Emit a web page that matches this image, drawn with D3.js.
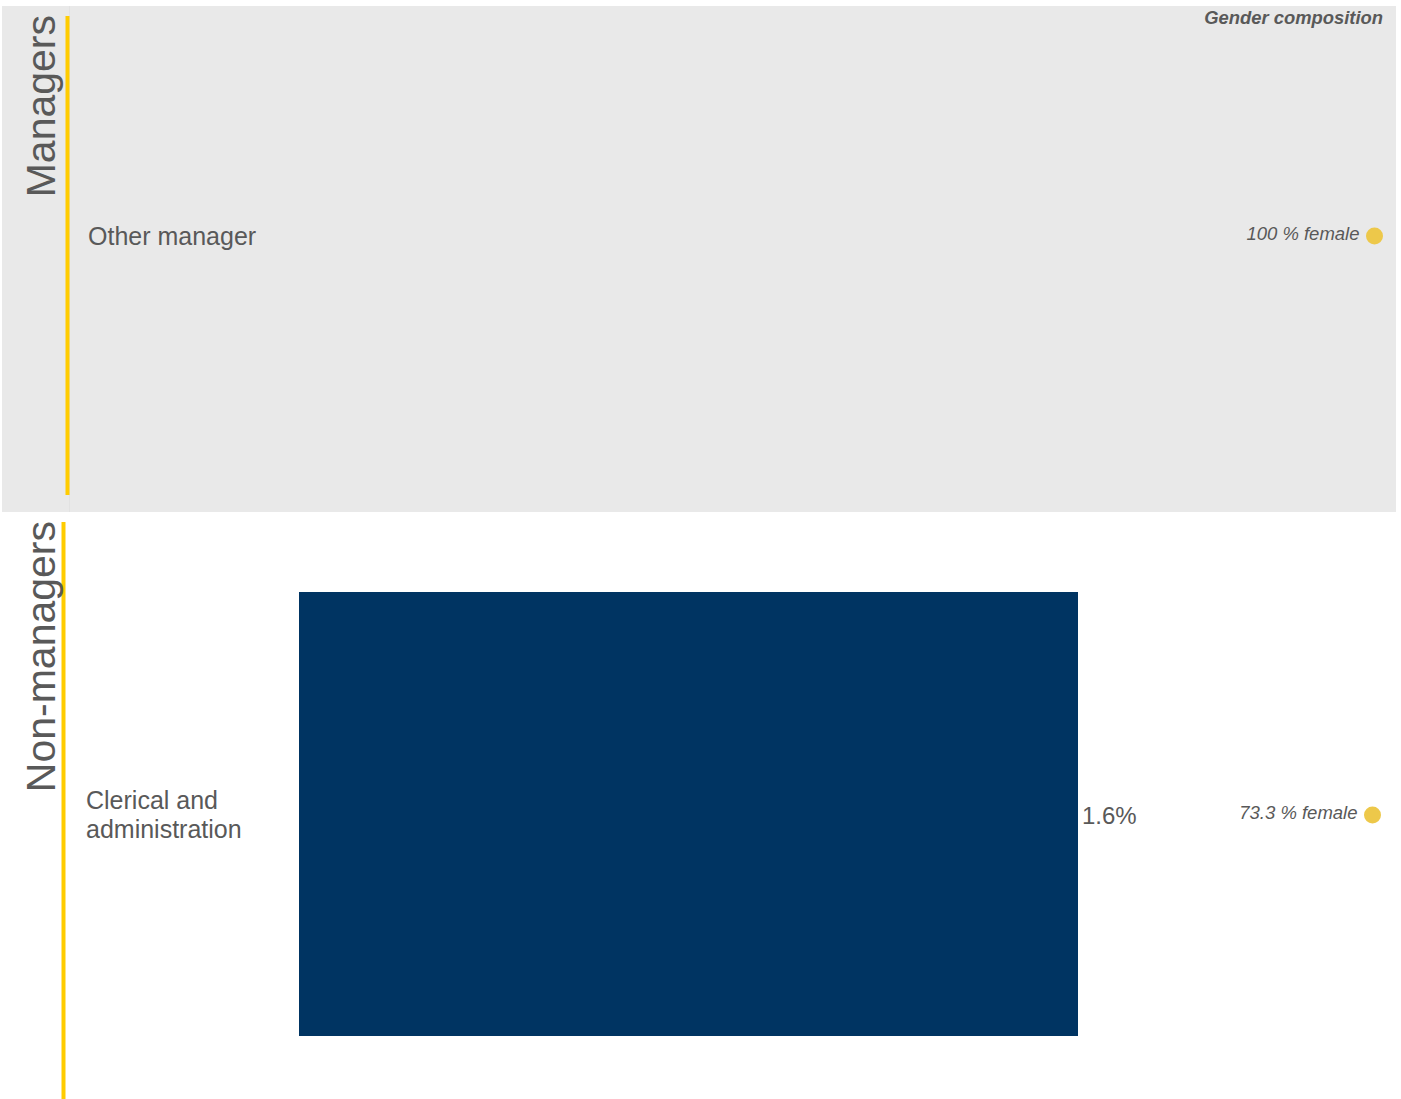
<!DOCTYPE html>
<html><head><meta charset="utf-8">
<script src="https://cdn.jsdelivr.net/npm/d3@7"></script>
<style>body{margin:0;background:#fff;font-family:Arial,"Liberation Sans",sans-serif;}</style>
</head><body>
<svg id="c" width="1401" height="1099"></svg>
<script>
const groups = ["Managers", "Non-managers"];
const categories = [["Other manager"], ["Clerical and", "administration"]];
const shares = [null, 1.6];
const femalePct = [100, 73.3];

const svg = d3.select("#c");
const panels = [
  {top: 6, bottom: 512, bg: "#e9e9e9", lineX: 67.5, lineTop: 16, lineBot: 495, labelX: 88, cy: 235, bandTop: 13, bandBot: 457},
  {top: 512, bottom: 1099, bg: "#ffffff", lineX: 63.5, lineTop: 522, lineBot: 1099, labelX: 86, cy: 814, bandTop: 592, bandBot: 1036}
];
const x = d3.scaleLinear().domain([0, 1.6]).range([299, 1078]);

groups.forEach((g, i) => {
  const p = panels[i];
  const gp = svg.append("g");
  if (i === 0) {
    gp.append("rect").attr("x", 2).attr("y", p.top).attr("width", 1394).attr("height", p.bottom - p.top).attr("fill", p.bg);
    gp.append("line").attr("x1", 69.5).attr("x2", 69.5).attr("y1", p.top).attr("y2", p.bottom).attr("stroke", "#e2e2e2").attr("stroke-width", 1);
  }
  gp.append("line").attr("x1", p.lineX).attr("x2", p.lineX).attr("y1", p.lineTop).attr("y2", p.lineBot)
    .attr("stroke", "#ffcc00").attr("stroke-width", 4);
  gp.append("text").attr("transform", `translate(55,${p.lineTop - 1}) rotate(-90)`)
    .attr("text-anchor", "end").attr("font-size", 41).attr("fill", "#595959").text(g);

  const lines = categories[i];
  const key = lines.join(" ");
  const y = d3.scaleBand().domain([key]).range([p.bandTop, p.bandBot]).padding(0);
  const cy = p.cy;
  const lh = 29;
  const t = gp.append("text").attr("font-size", 25).attr("fill", "#595959");
  lines.forEach((l, k) => {
    t.append("tspan").attr("x", p.labelX).attr("y", cy + 9.5 - (lines.length - 1) * lh / 2 + k * lh).text(l);
  });
  if (shares[i] != null) {
    gp.append("rect").attr("x", x(0)).attr("y", y(key)).attr("width", x(shares[i]) - x(0)).attr("height", y.bandwidth()).attr("fill", "#003462");
    gp.append("text").attr("x", x(shares[i]) + 4).attr("y", cy + 10).attr("font-size", 24).attr("fill", "#595959").text(shares[i] + "%");
  }
  const cx = i === 0 ? 1374.5 : 1372.5;
  gp.append("circle").attr("cx", cx).attr("cy", cy + 1).attr("r", 8.5).attr("fill", "#edc84a");
  gp.append("text").attr("x", cx - 15).attr("y", cy + 5).attr("text-anchor", "end").attr("font-size", 18.5)
    .attr("font-style", "italic").attr("fill", "#595959").text(femalePct[i] + " % female");
});
svg.append("text").attr("x", 1383).attr("y", 24).attr("text-anchor", "end").attr("font-size", 18.4)
  .attr("font-style", "italic").attr("font-weight", "bold").attr("fill", "#595959").text("Gender composition");
</script>
</body></html>
